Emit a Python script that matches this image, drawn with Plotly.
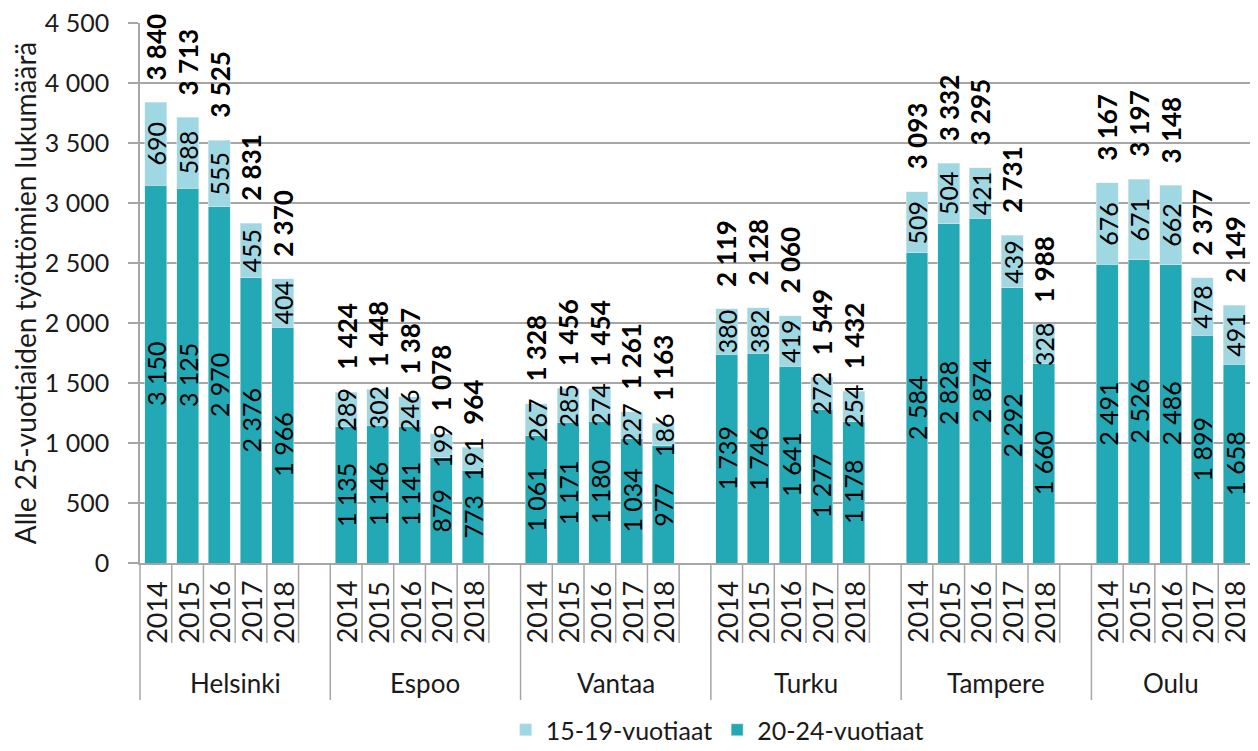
import plotly.graph_objects as go

cities = ["Helsinki", "Espoo", "Vantaa", "Turku", "Tampere", "Oulu"]
years = ["2014", "2015", "2016", "2017", "2018"]

age_20_24 = {
    "Helsinki": [3150, 3125, 2970, 2376, 1966],
    "Espoo": [1135, 1146, 1141, 879, 773],
    "Vantaa": [1061, 1171, 1180, 1034, 977],
    "Turku": [1739, 1746, 1641, 1277, 1178],
    "Tampere": [2584, 2828, 2874, 2292, 1660],
    "Oulu": [2491, 2526, 2486, 1899, 1658],
}
age_15_19 = {
    "Helsinki": [690, 588, 555, 455, 404],
    "Espoo": [289, 302, 246, 199, 191],
    "Vantaa": [267, 285, 274, 227, 186],
    "Turku": [380, 382, 419, 272, 254],
    "Tampere": [509, 504, 421, 439, 328],
    "Oulu": [676, 671, 662, 478, 491],
}
y_ticks = [0, 500, 1000, 1500, 2000, 2500, 3000, 3500, 4000, 4500]

DARK = "#22A9B5"
LIGHT = "#9FD8E2"
GRID = "#A6A6A6"
TXT = "#1A1A1A"
FONT = "Lato"

SLOTS_PER_GROUP = 6
n_slots = SLOTS_PER_GROUP * (len(cities) - 1) + len(years)

xs, v_dark, v_light = [], [], []
for g, c in enumerate(cities):
    for k, _ in enumerate(years):
        xs.append(g * SLOTS_PER_GROUP + k)
        v_dark.append(age_20_24[c][k])
        v_light.append(age_15_19[c][k])
totals = [a + b for a, b in zip(v_dark, v_light)]


def fmt(v):
    return f"{v:,}".replace(",", " ")


fig = go.Figure()
fig.add_trace(go.Bar(x=xs, y=v_dark, name="20-24-vuotiaat", marker_color=DARK,
                     width=0.69, legendrank=2))
fig.add_trace(go.Bar(x=xs, y=v_light, name="15-19-vuotiaat", marker_color=LIGHT,
                     width=0.69, legendrank=1))

ann = []
for x, d, l, t in zip(xs, v_dark, v_light, totals):
    ann.append(dict(x=x, y=d / 2, xref="x", yref="y", text=fmt(d), textangle=-90,
                    showarrow=False, xanchor="center", yanchor="middle",
                    font=dict(family=FONT, size=25, color="#000")))
    ann.append(dict(x=x, y=d + l / 2, xref="x", yref="y", text=fmt(l), textangle=-90,
                    showarrow=False, xanchor="center", yanchor="middle",
                    font=dict(family=FONT, size=25, color="#000")))
    ann.append(dict(x=x, y=t, xref="x", yref="y", text="<b>" + fmt(t) + "</b>",
                    textangle=-90, showarrow=False, xanchor="center", yanchor="bottom",
                    yshift=20, font=dict(family=FONT, size=26, color="#000")))

PLOT_H = 540
def py(pix_below_axis):
    return -pix_below_axis / PLOT_H

shapes = []
for g, c in enumerate(cities):
    s0 = g * SLOTS_PER_GROUP
    nk = len(years)
    for k, yr in enumerate(years):
        ann.append(dict(x=s0 + k, y=py(49), xref="x", yref="paper", text=yr,
                        textangle=-90, showarrow=False, xanchor="center", yanchor="middle",
                        font=dict(family=FONT, size=27, color=TXT)))
    span = SLOTS_PER_GROUP if g < len(cities) - 1 else nk
    ann.append(dict(x=s0 - 0.5 + span / 2, y=py(120), xref="x", yref="paper", text=c,
                    showarrow=False, xanchor="center", yanchor="middle",
                    font=dict(family=FONT, size=26, color=TXT)))
    # separators
    shapes.append(dict(type="line", xref="paper", yref="paper",
                       x0=(s0) / n_slots, x1=(s0) / n_slots, y0=0, y1=py(137),
                       line=dict(color=GRID, width=1.5)))
    for k in range(1, span):
        xp = (s0 + k) / n_slots
        shapes.append(dict(type="line", xref="paper", yref="paper", x0=xp, x1=xp,
                           y0=0, y1=py(80), line=dict(color=GRID, width=1.5)))

fig.update_layout(
    barmode="stack",
    width=1242, height=735,
    margin=dict(l=132, r=0, t=15, b=180, autoexpand=False),
    paper_bgcolor="white", plot_bgcolor="white",
    separators=", ",
    font=dict(family=FONT, size=25, color=TXT),
    showlegend=True,
    legend=dict(orientation="h", x=0.52, xanchor="center", y=py(167), yanchor="middle",
                font=dict(family=FONT, size=25, color=TXT), traceorder="normal",
                itemwidth=30),
    annotations=ann,
    shapes=shapes,
    xaxis=dict(range=[-0.5, n_slots - 0.5], showticklabels=False, ticks="",
               showgrid=False, zeroline=False, showline=True, linecolor=GRID, linewidth=1.5),
    yaxis=dict(range=[0, 4500], tickvals=y_ticks, tickformat=",d", showgrid=True,
               gridcolor=GRID, gridwidth=1.5, zeroline=False, showline=True,
               linecolor=GRID, linewidth=1.5, ticks="outside", ticklen=10,
               tickcolor=GRID, tickwidth=1.5, ticklabelstandoff=14,
               ticklabeloverflow="allow",
               tickfont=dict(family=FONT, size=25, color=TXT),
               title=dict(text="Alle 25-vuotiaiden työttömien lukumäärä", standoff=4,
                          font=dict(family=FONT, size=28, color=TXT))),
)

fig.write_html("out.html")
